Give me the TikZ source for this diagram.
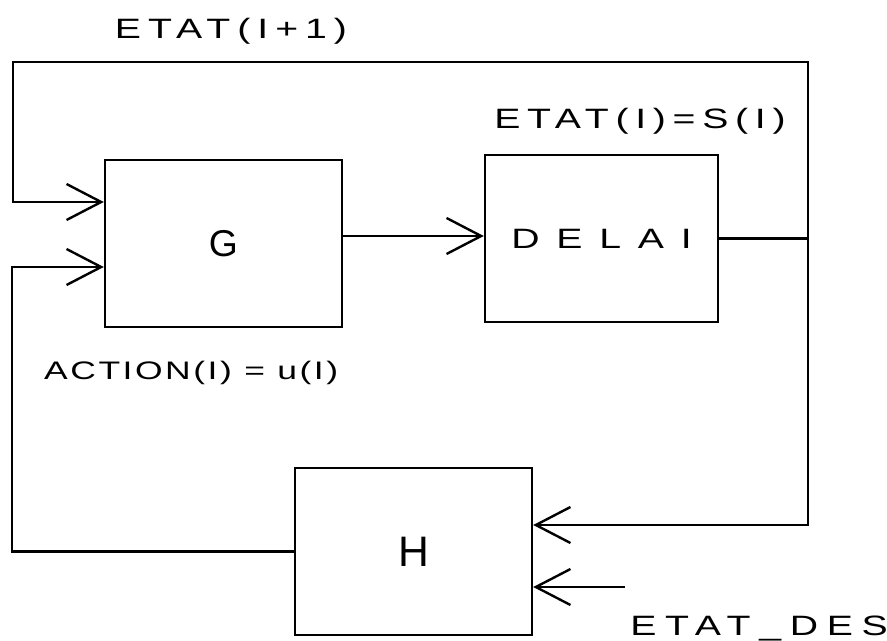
\documentclass[tikz,border=0pt]{standalone}
\usepackage{fontspec}
\setmainfont{Liberation Sans}
\newfontfamily\plotter[FakeStretch=1.4]{Liberation Sans}
\usetikzlibrary{arrows.meta}

\tikzset{every picture/.style={line width=1.8pt}}
\tikzset{
  block/.style={draw, rectangle, inner sep=0pt, minimum width=237*0.75pt, minimum height=167*0.75pt},
  arr/.style={-{Straight Barb[length=26pt,width=27pt]}},
  lbl/.style={inner sep=0pt}
}
\newcommand{\plotfont}[2]{\plotter\addfontfeature{LetterSpace=#2}\fontsize{#1}{#1}\selectfont}

\begin{document}
\begin{tikzpicture}[x=0.75pt,y=0.75pt,yscale=-1,xscale=1]
\useasboundingbox (0,0) rectangle (887,641);

%Shape: Rectangle G
\node [block] (G) at (223.5,243.5) {\fontsize{28pt}{32pt}\selectfont G};
%Shape: Rectangle DELAI
\node [block, minimum width=233*0.75pt] (delai) at (601.5,238.5) {\plotfont{21pt}{60}DELAI};
%Shape: Rectangle H
\node [block] (H) at (413.5,551.5) {\fontsize{32pt}{36pt}\selectfont H};

% corners of the loops
\coordinate (topR) at (808,62);
\coordinate (topL) at (13,62);
\coordinate (botL) at (12,267);
\coordinate (junc) at (delai.east -| topR);
\coordinate (des) at (625,587);

%Straight Lines
\draw [arr] (G.east |- 0,236) -- (delai.west |- 0,236);
\draw (delai.east) -- (junc);
\draw [arr] (junc) -- (topR) -- (topL) |- (G.west |- 0,202);
\draw [arr] (junc) |- (H.east |- 0,525);
\draw [arr] (H.west) -| (botL) -- (G.west |- botL);
\draw [arr] (des) -- (H.east |- des);

% Text Node
\node [lbl] (etat1) at (231,31) {\plotfont{21pt}{25}ETAT(I+1)};
% Text Node
\node [lbl] (etats) at (640,121) {\plotfont{21pt}{24}ETAT(I)=S(I)};
% Text Node
\node [lbl, anchor=west] (action) at (43,373) {\plotfont{19pt}{10}ACTION(I) = u(I)};
% Text Node
\node [lbl, anchor=east] (etatdes) at (889,628) {\plotfont{21pt}{31}ETAT\_DES};

\end{tikzpicture}
\end{document}
